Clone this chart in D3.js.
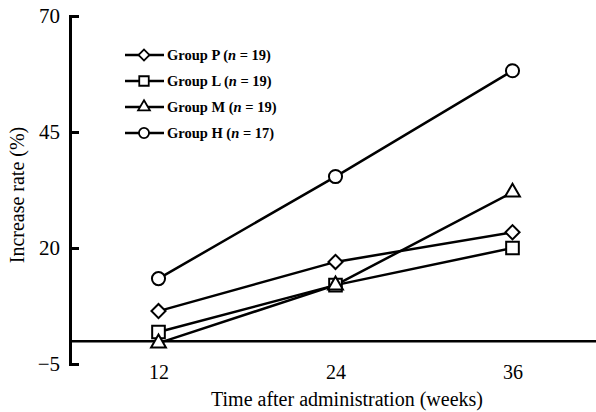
<!DOCTYPE html>
<html>
<head>
<meta charset="utf-8">
<script src="https://cdn.jsdelivr.net/npm/d3@7"></script>
<style>
  body { margin: 0; background: #fff; }
  svg { display: block; font-family: "Liberation Serif", "Times New Roman", serif; }
</style>
</head>
<body>
<div class="chart"></div>
<script>
const weeks = [12, 24, 36];
const groupP = [6.4, 17, 23.4];
const groupL = [1.9, 12, 20];
const groupM = [-0.5, 12, 32];
const groupH = [13.4, 35.4, 58.2];
const yTicks = [-5, 20, 45, 70];
const legendNames = ["Group P", "Group L", "Group M", "Group H"];
const legendN = [19, 19, 19, 17];

const width = 596;
const height = 412;

const svg = d3.select(".chart").append("svg")
    .attr("width", width)
    .attr("height", height);

const x = d3.scaleLinear().domain([6, 42]).range([70, 601]);
const y = d3.scaleLinear().domain([-5, 70]).range([364, 16]);

// y axis with inward ticks
const yAxis = svg.append("g")
    .attr("transform", "translate(70,0)")
    .call(d3.axisLeft(y).tickValues(yTicks).tickSize(-9).tickPadding(10));
yAxis.selectAll("path, line").attr("stroke", "#000").attr("stroke-width", 3);
yAxis.selectAll("text").attr("font-size", 21).attr("fill", "#000")
    .attr("font-family", "Liberation Serif, serif");

// zero line doubles as x axis
const xAxis = svg.append("g")
    .attr("transform", "translate(0," + y(0) + ")")
    .call(d3.axisBottom(x).tickValues(weeks).tickSize(0).tickSizeOuter(0).tickPadding(24));
xAxis.select(".domain").attr("stroke", "#000").attr("stroke-width", 2.5);
xAxis.selectAll("text").attr("font-size", 20).attr("fill", "#000")
    .attr("font-family", "Liberation Serif, serif");

svg.append("text")
    .attr("x", 347).attr("y", 406)
    .attr("text-anchor", "middle")
    .attr("font-size", 20)
    .text("Time after administration (weeks)");

svg.append("text")
    .attr("transform", "translate(24,195) rotate(-90)")
    .attr("text-anchor", "middle")
    .attr("font-size", 20)
    .text("Increase rate (%)");

// series
const diamond = d3.symbol().type(d3.symbolSquare).size(100)();
const shapes = [
    { path: diamond, rot: 45 },
    { path: d3.symbol().type(d3.symbolSquare).size(160)(), rot: 0 },
    { path: d3.symbol().type(d3.symbolTriangle).size(95)(), rot: 0 },
    { path: d3.symbol().type(d3.symbolCircle).size(135)(), rot: 0 }
];
const series = [groupP, groupL, groupM, groupH];

const line = d3.line().x((d, i) => x(weeks[i])).y(d => y(d));

series.forEach((vals, s) => {
    svg.append("path")
        .attr("d", line(vals))
        .attr("fill", "none")
        .attr("stroke", "#000")
        .attr("stroke-width", 2.5);
});
series.forEach((vals, s) => {
    svg.selectAll(null)
        .data(vals)
        .enter()
        .append("path")
        .attr("d", shapes[s].path)
        .attr("transform", (d, i) => "translate(" + x(weeks[i]) + "," + y(d) + ") rotate(" + shapes[s].rot + ")")
        .attr("fill", "#fff")
        .attr("stroke", "#000")
        .attr("stroke-width", 2);
});

// legend
const legend = svg.append("g");
legendNames.forEach((name, i) => {
    const ly = 55 + i * 26;
    legend.append("line")
        .attr("x1", 125).attr("x2", 164)
        .attr("y1", ly).attr("y2", ly)
        .attr("stroke", "#000").attr("stroke-width", 2.5);
    const sz = [60, 90, 60, 80][i];
    legend.append("path")
        .attr("d", d3.symbol().type([d3.symbolSquare, d3.symbolSquare, d3.symbolTriangle, d3.symbolCircle][i]).size(sz)())
        .attr("transform", "translate(144," + ly + ") rotate(" + shapes[i].rot + ")")
        .attr("fill", "#fff").attr("stroke", "#000").attr("stroke-width", 1.8);
    const t = legend.append("text")
        .attr("x", 167).attr("y", ly + 5)
        .attr("font-size", 14.5)
        .attr("font-weight", "bold");
    t.append("tspan").text(name + " (");
    t.append("tspan").attr("font-style", "italic").text("n");
    t.append("tspan").text(" = " + legendN[i] + ")");
});
</script>
</body>
</html>
